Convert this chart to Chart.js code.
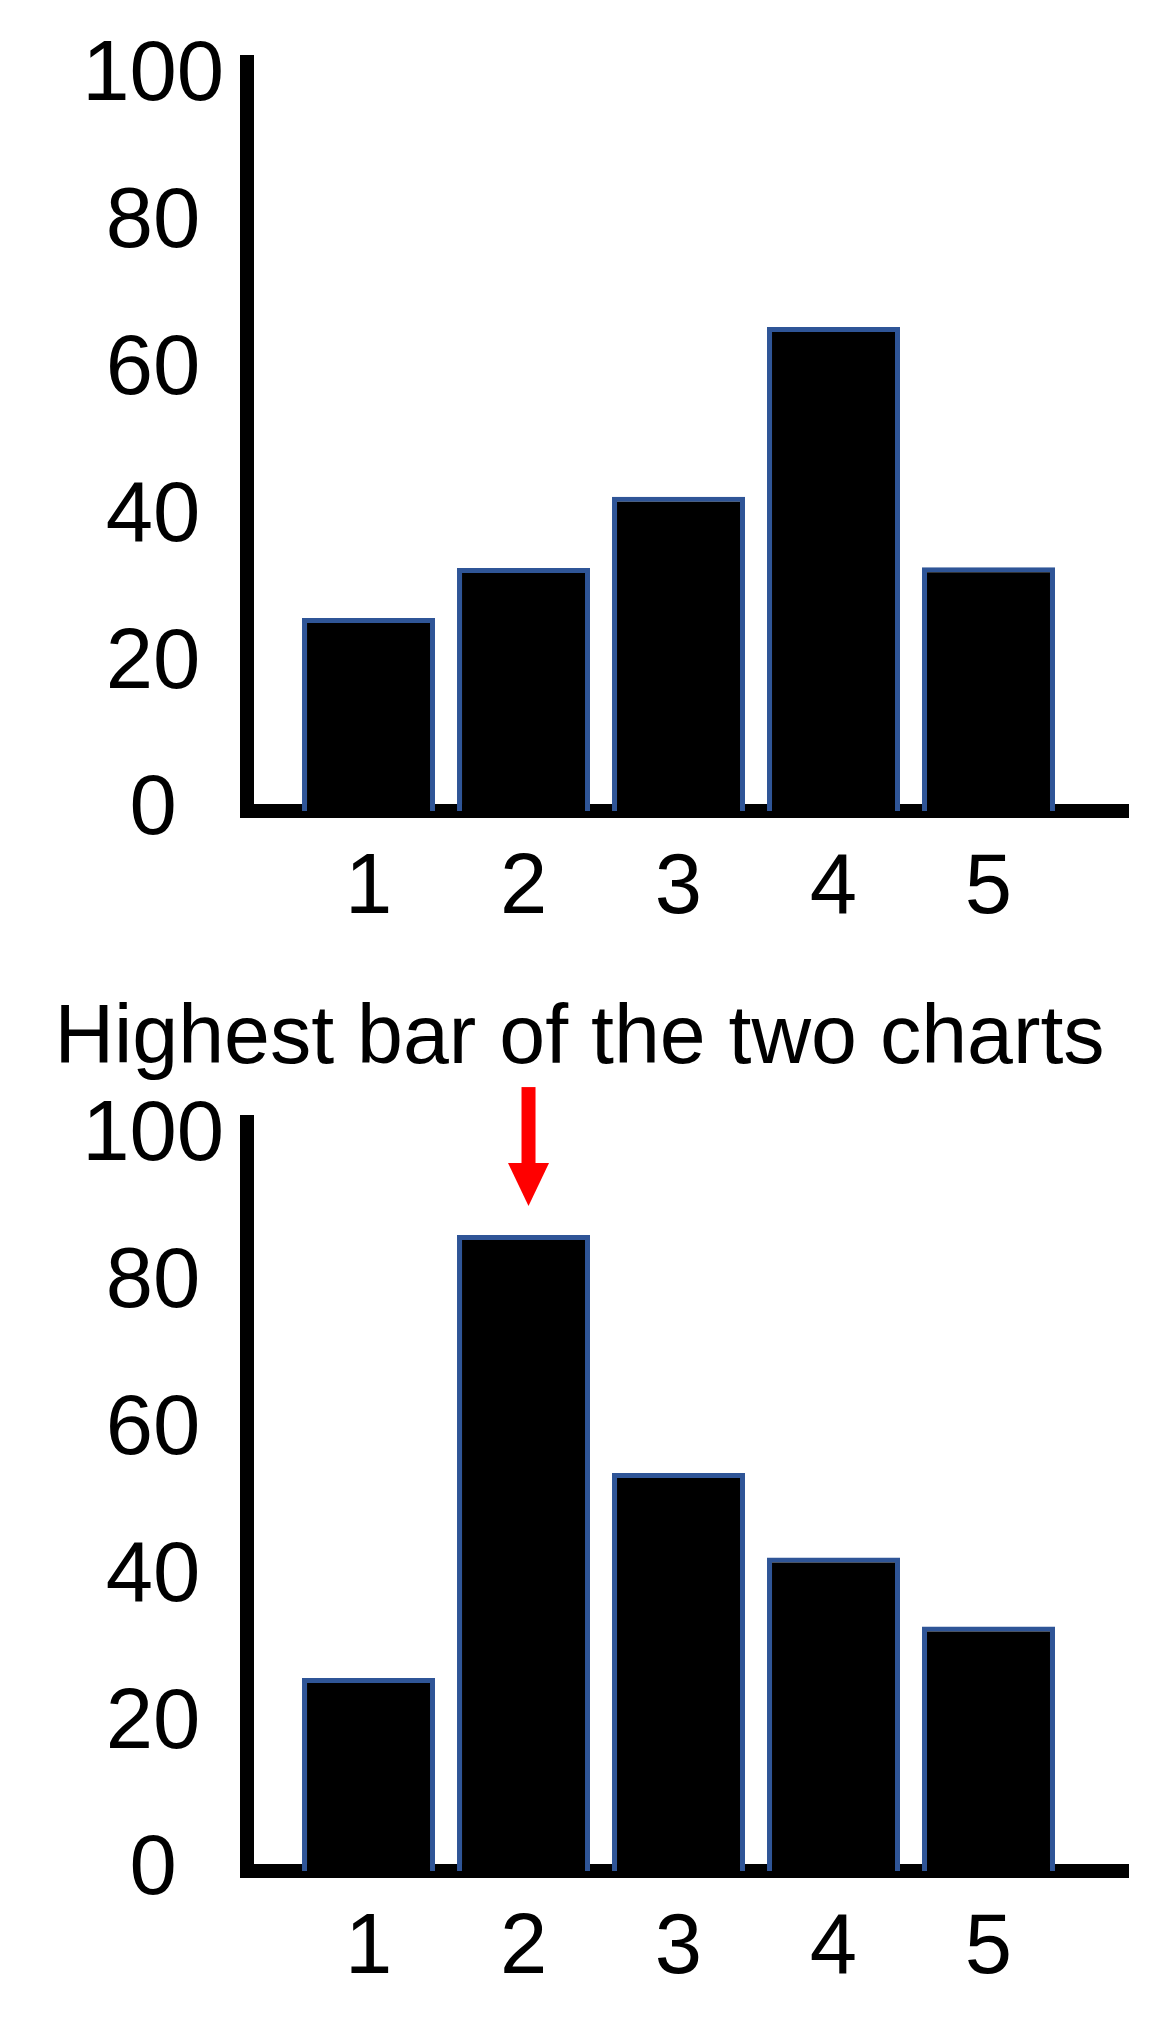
<!DOCTYPE html>
<html>
<head>
<meta charset="utf-8">
<script src="https://cdn.jsdelivr.net/npm/chart.js@4.4.1/dist/chart.umd.min.js"></script>
<style>
  html, body { margin: 0; padding: 0; background: #ffffff; }
  body { width: 1155px; height: 2039px; position: relative; overflow: hidden; }
  .box { position: absolute; left: 0; width: 1155px; }
  #topBox { top: 0; height: 1000px; }
  #bottomBox { top: 960px; height: 1079px; }
</style>
</head>
<body>
<div class="box" id="topBox"><canvas id="topChart"></canvas></div>
<div class="box" id="bottomBox"><canvas id="bottomChart"></canvas></div>
<script>
// ---- data ----
const categories = [1, 2, 3, 4, 5];
const topValues = [26.3, 33.1, 42.8, 65.9, 33.2];
const bottomValues = [26.3, 86.6, 54.2, 42.7, 33.3];
const yTickValues = [0, 20, 40, 60, 80, 100];
const titleText = 'Highest bar of the two charts';

// ---- style ----
const FONT = '"Liberation Sans", Arial, sans-serif';
const AXIS_W = 14;

function makeData(values) {
  return {
    datasets: [{
      data: categories.map((c, i) => ({ x: c, y: values[i] })),
      backgroundColor: '#000000',
      borderColor: '#2F5597',
      borderWidth: 5,
      categoryPercentage: 1,
      barPercentage: 0.858
    }]
  };
}

function makeOptions() {
  return {
    responsive: true,
    maintainAspectRatio: false,
    animation: false,
    events: [],
    plugins: { legend: { display: false }, tooltip: { enabled: false }, title: { display: false } },
    layout: { padding: { left: 31, right: 27, top: 62, bottom: 69 } },
    scales: {
      x: {
        type: 'linear',
        offset: false,
        min: 0.216,
        max: 5.9,
        grid: { display: false, drawTicks: false, offset: false },
        border: { display: true, color: '#000000', width: AXIS_W },
        ticks: {
          stepSize: 1,
          color: '#000000',
          font: { family: FONT, size: 85 },
          padding: 28,
          callback: v => String(v)
        },
        afterBuildTicks: s => { s.ticks = categories.map(c => ({ value: c })); },
        afterFit: s => { s.height = 120; }
      },
      y: {
        type: 'linear',
        min: 0,
        max: 102,
        grid: { display: false, drawTicks: false },
        border: { display: true, color: '#000000', width: AXIS_W },
        ticks: {
          stepSize: 20,
          color: '#000000',
          font: { family: FONT, size: 85, lineHeight: 0.8 },
          padding: 23,
          crossAlign: 'center'
        },
        afterBuildTicks: s => { s.ticks = yTickValues.map(v => ({ value: v })); },
        afterFit: s => { s.width = 216; }
      }
    }
  };
}

// top chart
new Chart(document.getElementById('topChart'), {
  type: 'bar',
  data: makeData(topValues),
  options: makeOptions()
});

// arrow pointing at the highest bar
const arrowPlugin = {
  id: 'highestArrow',
  afterDatasetsDraw(chart) {
    const idx = bottomValues.indexOf(Math.max(...bottomValues));
    const bar = chart.getDatasetMeta(0).data[idx];
    if (!bar) return;
    const ctx = chart.ctx;
    const cx = bar.x + 5;
    const tip = bar.y - 29;
    const headH = 43, headHalf = 20.5, shaftHalf = 7, shaftLen = 76;
    ctx.save();
    ctx.fillStyle = '#FF0000';
    ctx.fillRect(cx - shaftHalf, tip - headH - shaftLen, shaftHalf * 2, shaftLen + 1);
    ctx.beginPath();
    ctx.moveTo(cx - headHalf, tip - headH);
    ctx.lineTo(cx + headHalf, tip - headH);
    ctx.lineTo(cx, tip);
    ctx.closePath();
    ctx.fill();
    ctx.restore();
  }
};

const bottomOpts = makeOptions();
bottomOpts.layout = { padding: { left: 31, right: 27, top: 0, bottom: 48 } };
bottomOpts.plugins.title = {
  display: true,
  text: titleText,
  color: '#000000',
  font: { family: FONT, size: 82.5, weight: 'normal', lineHeight: 1.2 },
  padding: { top: 31, bottom: 32 }
};

new Chart(document.getElementById('bottomChart'), {
  type: 'bar',
  data: makeData(bottomValues),
  options: bottomOpts,
  plugins: [arrowPlugin]
});
</script>
</body>
</html>
